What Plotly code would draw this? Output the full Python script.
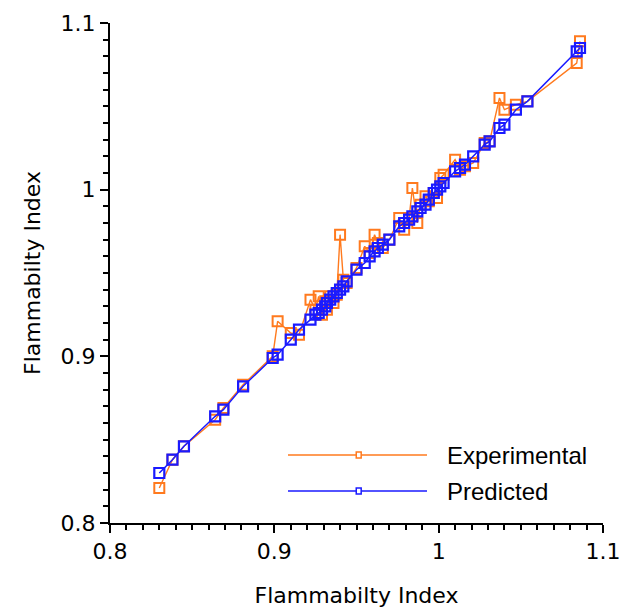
import plotly.graph_objects as go

# Flammability index: reference values (x) with experimental and predicted results
flam_x = [0.830, 0.838, 0.845, 0.864, 0.869, 0.881, 0.899, 0.902, 0.910, 0.915,
          0.922, 0.925, 0.927, 0.929, 0.931, 0.932, 0.934, 0.936, 0.938, 0.940,
          0.942, 0.944, 0.950, 0.955, 0.958, 0.961, 0.963, 0.966, 0.970, 0.976,
          0.979, 0.982, 0.984, 0.987, 0.989, 0.992, 0.994, 0.997, 0.999, 1.001,
          1.003, 1.010, 1.013, 1.016, 1.021, 1.028, 1.031, 1.037, 1.040, 1.047,
          1.054, 1.084, 1.086]

experimental = [0.821, 0.838, 0.846, 0.862, 0.869, 0.883, 0.900, 0.921, 0.914, 0.913,
                0.934, 0.928, 0.936, 0.925, 0.933, 0.928, 0.936, 0.932, 0.937, 0.973,
                0.946, 0.944, 0.953, 0.966, 0.962, 0.973, 0.968, 0.965, 0.970, 0.983,
                0.976, 0.983, 1.001, 0.980, 0.991, 0.996, 0.993, 0.998, 0.995, 1.007,
                1.009, 1.018, 1.012, 1.014, 1.016, 1.028, 1.029, 1.055, 1.048, 1.051,
                1.053, 1.076, 1.089]

predicted = [0.830, 0.838, 0.846, 0.864, 0.868, 0.882, 0.899, 0.901, 0.910, 0.916,
             0.922, 0.925, 0.926, 0.928, 0.930, 0.932, 0.934, 0.936, 0.938, 0.940,
             0.942, 0.945, 0.952, 0.956, 0.960, 0.963, 0.965, 0.967, 0.970, 0.978,
             0.980, 0.982, 0.984, 0.987, 0.989, 0.991, 0.994, 0.998, 1.000, 1.002,
             1.004, 1.011, 1.013, 1.015, 1.020, 1.027, 1.029, 1.037, 1.039, 1.048,
             1.053, 1.083, 1.085]

axis_ticks = [0.8, 0.9, 1.0, 1.1]
axis_ticktext = ["0.8", "0.9", "1", "1.1"]
series_names = ["Experimental", "Predicted"]

ORANGE = "#FF7A1E"
BLUE = "#1A1AFF"
FONT = "DejaVu Sans"

fig = go.Figure()

fig.add_trace(go.Scatter(
    x=flam_x, y=experimental, mode="lines+markers", name=series_names[0],
    line=dict(color=ORANGE, width=1.4),
    marker=dict(symbol="square-open", size=10, color=ORANGE, line=dict(width=2, color=ORANGE)),
    showlegend=False,
))
fig.add_trace(go.Scatter(
    x=flam_x, y=predicted, mode="lines+markers", name=series_names[1],
    line=dict(color=BLUE, width=1.5),
    marker=dict(symbol="square-open", size=10, color=BLUE, line=dict(width=2.2, color=BLUE)),
    showlegend=False,
))

axis_common = dict(
    range=[0.8, 1.1], tickvals=axis_ticks, ticktext=axis_ticktext,
    showgrid=False, zeroline=False, showline=True, linecolor="black", linewidth=2,
    ticks="outside", ticklen=8, tickwidth=2, tickcolor="black",
    minor=dict(dtick=0.01, ticks="outside", ticklen=5, tickwidth=2, tickcolor="black", showgrid=False),
    tickfont=dict(family=FONT, size=22, color="black"),
    automargin=False,
)

fig.update_xaxes(**axis_common,
                 title=dict(text="Flammabilty Index", font=dict(family=FONT, size=22, color="black"), standoff=26))
fig.update_yaxes(**axis_common,
                 title=dict(text="Flammabilty Index", font=dict(family=FONT, size=22, color="black"), standoff=14))

# Legend drawn in paper coordinates: long sample lines with a small square marker
legend_rows = [(series_names[0], ORANGE, 0.136), (series_names[1], BLUE, 0.064)]
for name, color, yp in legend_rows:
    fig.add_shape(type="line", xref="paper", yref="paper", x0=0.361, x1=0.643, y0=yp, y1=yp,
                  line=dict(color=color, width=1.5))
    fig.add_shape(type="rect", xref="paper", yref="paper",
                  x0=0.4995, x1=0.5095, y0=yp - 0.006, y1=yp + 0.006,
                  line=dict(color=color, width=1.5), fillcolor="white")
    fig.add_annotation(xref="paper", yref="paper", x=0.68, y=yp, text=name, showarrow=False,
                       xanchor="left", yanchor="middle",
                       font=dict(family="Liberation Sans", size=24, color="black"))

fig.update_layout(
    width=622, height=608,
    margin=dict(l=110, r=19, t=23, b=85),
    paper_bgcolor="white", plot_bgcolor="white",
)

fig.write_html("out.html")
